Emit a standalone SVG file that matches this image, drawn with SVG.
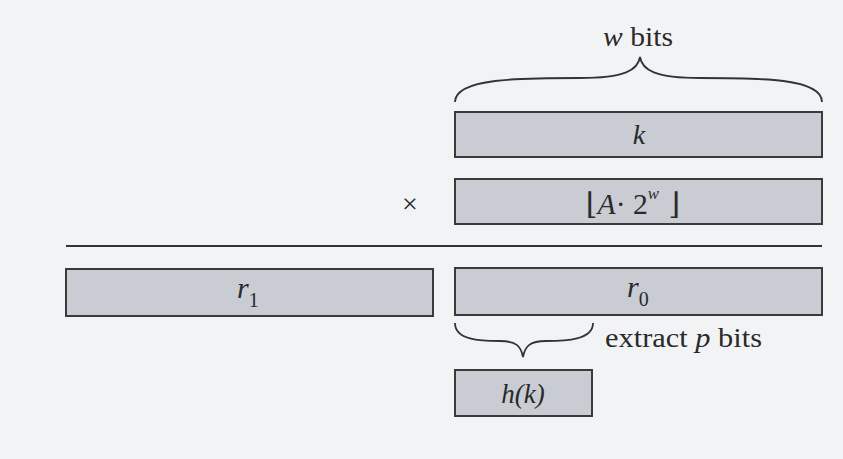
<svg xmlns="http://www.w3.org/2000/svg" width="843" height="459" viewBox="0 0 843 459">
<style>
.box{fill:#c9ccd3;stroke:#3a3a3a;stroke-width:2}
text{font-family:'Liberation Serif','Times New Roman','DejaVu Serif',serif;fill:#2a2a2a}
.i{font-style:italic}
.br{fill:none;stroke:#333;stroke-width:1.8}
</style>
<rect width="843" height="459" fill="#f2f3f5"/>
<g id="wbits">
<text x="603" y="46" font-size="28" textLength="70" lengthAdjust="spacingAndGlyphs"><tspan class="i">w</tspan> bits</text>
<path class="br" d="M455,102 C455,78 520,78 580,78 C625,78 638,70 640,57 C642,70 655,78 700,78 C760,78 822,78 822,102"/>
</g>
<g id="k">
<rect class="box" x="455" y="112" width="367" height="45"/>
<text class="i" x="639" y="144" font-size="28" text-anchor="middle">k</text>
</g>
<g id="times">
<text x="410" y="213" font-size="28" text-anchor="middle">×</text>
</g>
<g id="A2w">
<rect class="box" x="455" y="179" width="367" height="45"/>
<text x="586" y="214" font-size="30" textLength="94" lengthAdjust="spacingAndGlyphs"><tspan font-family="DejaVu Serif" font-size="30">⌊</tspan><tspan class="i">A</tspan><tspan>·</tspan><tspan> 2</tspan><tspan class="i" font-size="17" dy="-15">w</tspan><tspan font-family="DejaVu Serif" font-size="30" dy="15"> ⌋</tspan></text>
</g>
<g id="rule">
<line x1="66" y1="246" x2="822" y2="246" stroke="#333" stroke-width="2"/>
</g>
<g id="r1">
<rect class="box" x="66" y="269" width="367" height="47"/>
<text x="237" y="298" font-size="30"><tspan class="i">r</tspan><tspan font-size="20" dy="9">1</tspan></text>
</g>
<g id="r0">
<rect class="box" x="455" y="268" width="367" height="47"/>
<text x="627" y="297" font-size="30"><tspan class="i">r</tspan><tspan font-size="20" dy="9">0</tspan></text>
</g>
<g id="extract">
<path class="br" d="M455,323 C455,340 480,341 500,341 C516,341 521,346 523,357 C525,346 530,341 546,341 C566,341 593,340 593,323"/>
<text x="605" y="347" font-size="28" textLength="157" lengthAdjust="spacingAndGlyphs"><tspan>extract </tspan><tspan class="i">p</tspan><tspan> bits</tspan></text>
</g>
<g id="hk">
<rect class="box" x="455" y="370" width="137" height="46"/>
<text class="i" x="523" y="403" font-size="27" text-anchor="middle">h(k)</text>
</g>
</svg>
